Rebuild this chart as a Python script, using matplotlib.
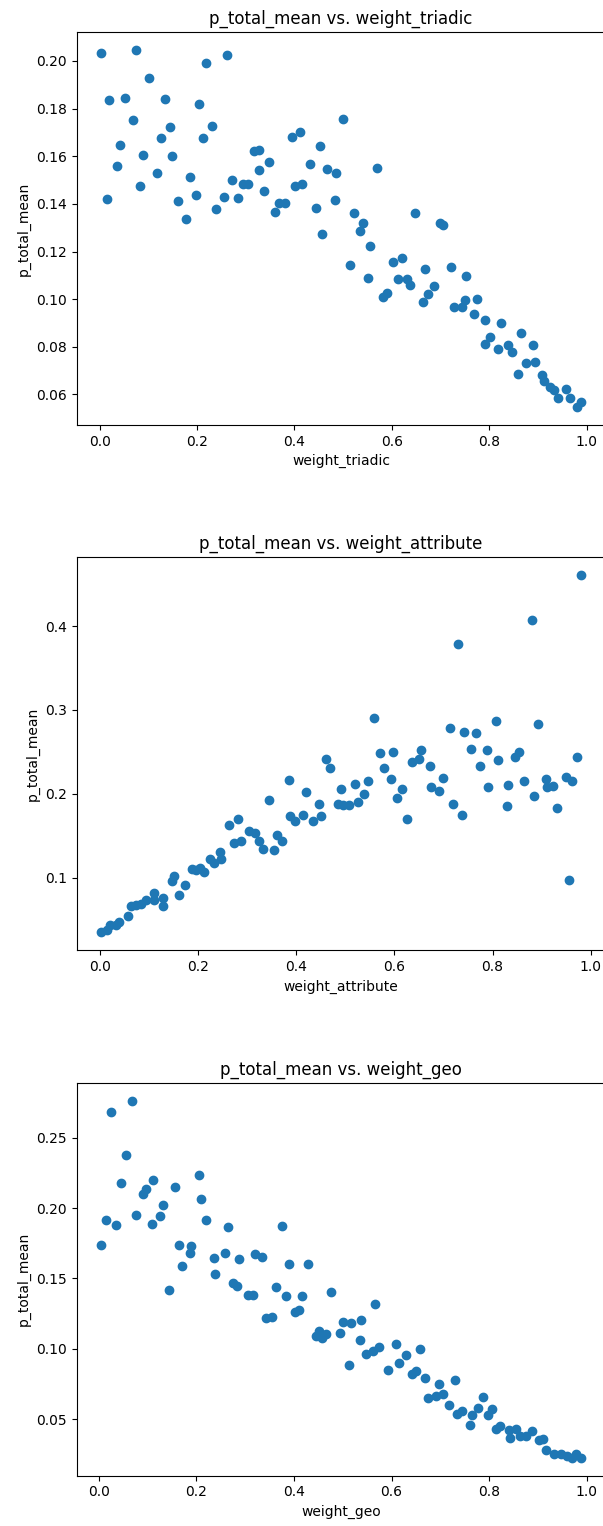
import matplotlib
matplotlib.use('Agg')
import matplotlib.pyplot as plt

# p_total_mean vs. weight_triadic
TRIADIC_X = [
    0.002, 0.015, 0.020, 0.035, 0.042, 0.053, 0.068, 0.074, 0.082, 0.090,
    0.101, 0.118, 0.125, 0.134, 0.145, 0.149, 0.160, 0.177, 0.186, 0.197,
    0.205, 0.212, 0.219, 0.230, 0.239, 0.255, 0.261, 0.272, 0.285, 0.294,
    0.305, 0.316, 0.327, 0.328, 0.337, 0.348, 0.359, 0.368, 0.381, 0.394,
    0.402, 0.412, 0.416, 0.432, 0.445, 0.453, 0.457, 0.467, 0.483, 0.486,
    0.500, 0.515, 0.523, 0.534, 0.540, 0.550, 0.556, 0.570, 0.581, 0.590,
    0.602, 0.612, 0.620, 0.630, 0.638, 0.648, 0.664, 0.668, 0.675, 0.686,
    0.698, 0.704, 0.721, 0.728, 0.743, 0.751, 0.753, 0.768, 0.774, 0.792,
    0.791, 0.801, 0.818, 0.823, 0.838, 0.847, 0.858, 0.865, 0.875, 0.890,
    0.894, 0.909, 0.913, 0.925, 0.933, 0.942, 0.957, 0.966, 0.981, 0.989,
]
TRIADIC_Y = [
    0.2032, 0.1422, 0.1837, 0.1559, 0.1649, 0.1845, 0.1751, 0.2046, 0.1475, 0.1605,
    0.1929, 0.1529, 0.1676, 0.1841, 0.1721, 0.1601, 0.1412, 0.1337, 0.1511, 0.1436,
    0.1818, 0.1676, 0.1992, 0.1725, 0.1377, 0.1430, 0.2024, 0.1501, 0.1426, 0.1482,
    0.1485, 0.1622, 0.1627, 0.1542, 0.1453, 0.1577, 0.1367, 0.1404, 0.1404, 0.1680,
    0.1475, 0.1703, 0.1485, 0.1568, 0.1381, 0.1644, 0.1274, 0.1546, 0.1418, 0.1529,
    0.1756, 0.1144, 0.1360, 0.1288, 0.1320, 0.1088, 0.1225, 0.1552, 0.1011, 0.1025,
    0.1154, 0.1084, 0.1172, 0.1084, 0.1060, 0.1363, 0.0989, 0.1127, 0.1020, 0.1056,
    0.1320, 0.1313, 0.1137, 0.0966, 0.0969, 0.0998, 0.1099, 0.0936, 0.1001, 0.0912,
    0.0811, 0.0841, 0.0789, 0.0899, 0.0806, 0.0779, 0.0686, 0.0859, 0.0731, 0.0806,
    0.0735, 0.0682, 0.0656, 0.0631, 0.0620, 0.0585, 0.0624, 0.0585, 0.0547, 0.0570,
]

# p_total_mean vs. weight_attribute
ATTRIBUTE_X = [
    0.001, 0.015, 0.021, 0.032, 0.039, 0.056, 0.063, 0.073, 0.083, 0.093,
    0.109, 0.110, 0.129, 0.128, 0.147, 0.150, 0.161, 0.174, 0.187, 0.195,
    0.204, 0.211, 0.223, 0.233, 0.245, 0.247, 0.263, 0.272, 0.282, 0.287,
    0.304, 0.316, 0.323, 0.332, 0.344, 0.354, 0.360, 0.371, 0.385, 0.387,
    0.398, 0.413, 0.419, 0.433, 0.446, 0.450, 0.461, 0.469, 0.484, 0.492,
    0.495, 0.507, 0.520, 0.526, 0.537, 0.546, 0.558, 0.571, 0.578, 0.593,
    0.598, 0.606, 0.616, 0.626, 0.635, 0.650, 0.654, 0.672, 0.674, 0.691,
    0.698, 0.713, 0.719, 0.730, 0.738, 0.742, 0.755, 0.767, 0.775, 0.789,
    0.791, 0.806, 0.812, 0.829, 0.832, 0.846, 0.854, 0.865, 0.880, 0.885,
    0.892, 0.908, 0.910, 0.924, 0.931, 0.949, 0.955, 0.961, 0.973, 0.981,
]
ATTRIBUTE_Y = [
    0.0345, 0.0373, 0.0432, 0.0432, 0.0472, 0.0547, 0.0663, 0.0670, 0.0690, 0.0738,
    0.0738, 0.0814, 0.0762, 0.0663, 0.0953, 0.1016, 0.0790, 0.0917, 0.1104, 0.1092,
    0.1116, 0.1072, 0.1227, 0.1175, 0.1306, 0.1219, 0.1628, 0.1410, 0.1700, 0.1433,
    0.1561, 0.1533, 0.1437, 0.1346, 0.1930, 0.1334, 0.1513, 0.1441, 0.2160, 0.1735,
    0.1672, 0.1743, 0.2016, 0.1676, 0.1878, 0.1735, 0.2411, 0.2307, 0.1882, 0.2055,
    0.1867, 0.1867, 0.2121, 0.1906, 0.1994, 0.2157, 0.2907, 0.2490, 0.2311, 0.2172,
    0.2502, 0.1954, 0.2057, 0.1704, 0.2375, 0.2411, 0.2526, 0.2327, 0.2085, 0.2033,
    0.2184, 0.2780, 0.1878, 0.3793, 0.1751, 0.2741, 0.2538, 0.2729, 0.2335, 0.2526,
    0.2081, 0.2868, 0.2399, 0.1855, 0.2109, 0.2439, 0.2502, 0.2157, 0.4072, 0.1970,
    0.2828, 0.2172, 0.2081, 0.2093, 0.1827, 0.2204, 0.0965, 0.2157, 0.2439, 0.4608,
]

# p_total_mean vs. weight_geo
GEO_X = [
    0.004, 0.015, 0.026, 0.035, 0.046, 0.055, 0.068, 0.077, 0.090, 0.098,
    0.109, 0.111, 0.125, 0.131, 0.144, 0.157, 0.164, 0.171, 0.188, 0.190,
    0.205, 0.210, 0.219, 0.237, 0.239, 0.258, 0.265, 0.275, 0.284, 0.288,
    0.306, 0.316, 0.321, 0.334, 0.342, 0.355, 0.364, 0.375, 0.384, 0.389,
    0.403, 0.411, 0.417, 0.428, 0.446, 0.452, 0.457, 0.466, 0.476, 0.495,
    0.500, 0.513, 0.518, 0.535, 0.538, 0.547, 0.563, 0.567, 0.575, 0.593,
    0.610, 0.615, 0.630, 0.642, 0.651, 0.658, 0.669, 0.675, 0.691, 0.698,
    0.705, 0.717, 0.731, 0.735, 0.744, 0.760, 0.765, 0.777, 0.787, 0.797,
    0.806, 0.815, 0.823, 0.841, 0.843, 0.855, 0.863, 0.876, 0.887, 0.902,
    0.910, 0.916, 0.933, 0.947, 0.959, 0.969, 0.977, 0.989,
]
GEO_Y = [
    0.1737, 0.1919, 0.2682, 0.1881, 0.2177, 0.2380, 0.2764, 0.1952, 0.2099, 0.2136,
    0.1888, 0.2198, 0.1943, 0.2023, 0.1421, 0.2153, 0.1737, 0.1586, 0.1678, 0.1730,
    0.2236, 0.2063, 0.1919, 0.1648, 0.1534, 0.1683, 0.1867, 0.1468, 0.1449, 0.1640,
    0.1383, 0.1383, 0.1674, 0.1655, 0.1218, 0.1225, 0.1442, 0.1874, 0.1376, 0.1603,
    0.1260, 0.1277, 0.1376, 0.1603, 0.1088, 0.1126, 0.1076, 0.1107, 0.1407, 0.1112,
    0.1194, 0.0885, 0.1185, 0.1064, 0.1208, 0.0961, 0.0982, 0.1322, 0.1013, 0.0852,
    0.1034, 0.0902, 0.0959, 0.0819, 0.0845, 0.0998, 0.0795, 0.0651, 0.0668, 0.0748,
    0.0682, 0.0599, 0.0779, 0.0540, 0.0559, 0.0462, 0.0531, 0.0583, 0.0658, 0.0531,
    0.0573, 0.0432, 0.0455, 0.0420, 0.0368, 0.0434, 0.0380, 0.0380, 0.0417, 0.0351,
    0.0363, 0.0283, 0.0254, 0.0254, 0.0240, 0.0226, 0.0254, 0.0226,
]

PANELS = [
    ('weight_triadic', TRIADIC_X, TRIADIC_Y),
    ('weight_attribute', ATTRIBUTE_X, ATTRIBUTE_Y),
    ('weight_geo', GEO_X, GEO_Y),
]

fig, axes = plt.subplots(3, 1, figsize=(6.03, 15.26), dpi=100)
# the source image is cropped at the right, so the right spine sits just off-canvas
fig.subplots_adjust(left=0.127, right=1.004, top=0.979, bottom=0.033, hspace=0.337)

for ax, (name, xs, ys) in zip(axes, PANELS):
    ax.scatter(xs, ys)
    ax.set_title(f'p_total_mean vs. {name}')
    ax.set_xlabel(name)
    ax.set_ylabel('p_total_mean')

fig.savefig('out.png', dpi=100)
